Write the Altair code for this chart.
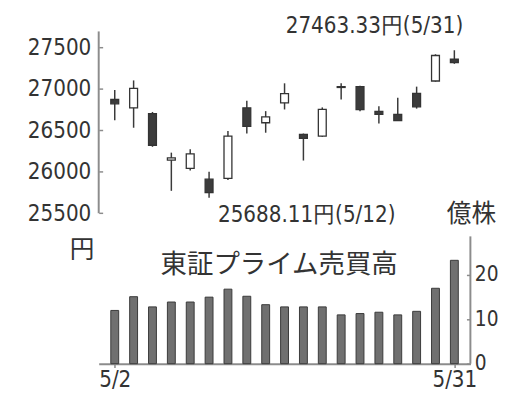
import altair as alt
import pandas as pd

# ---------------- data ----------------
dates = ["5/2", "5/6", "5/9", "5/10", "5/11", "5/12", "5/13", "5/16", "5/17", "5/18",
         "5/19", "5/20", "5/23", "5/24", "5/25", "5/26", "5/27", "5/30", "5/31"]
opens = [26870, 26770, 26700, 26140, 26040, 25910, 25920, 26770, 26590, 26830,
         26450, 26430, 27025, 27025, 26728, 26690, 26945, 27093, 27355]
highs = [26985, 27100, 26720, 26230, 26270, 26000, 26490, 26855, 26730, 27065,
         26460, 26775, 27065, 27035, 26790, 26890, 27025, 27415, 27463.33]
lows = [26620, 26530, 26300, 25770, 26015, 25688.11, 25900, 26460, 26470, 26750,
        26135, 26420, 26870, 26730, 26580, 26610, 26760, 27085, 27300]
closes = [26818, 27004, 26319, 26167, 26214, 25749, 26428, 26547, 26660, 26940,
          26403, 26750, 27015, 26748, 26690, 26615, 26782, 27400, 27315]
volumes = [12.0, 15.1, 12.8, 13.9, 13.9, 15.0, 16.8, 15.2, 13.3, 12.8,
           12.8, 12.8, 11.0, 11.3, 11.6, 11.0, 11.8, 17.0, 23.3]

price_ticks = [25500, 26000, 26500, 27000, 27500]
volume_ticks = [0, 10, 20]
x_labels = ["5/2", "5/31"]

high_note = {"date": ["5/31"], "price": [27463.33], "label": ["27463.33円(5/31)"]}
low_note = {"date": ["5/12"], "price": [25688.11], "label": ["25688.11円(5/12)"]}
price_axis_span = {"lo": [25500], "hi": [27690]}
volume_axis_span = {"lo": [0], "hi": [28.7]}

# ---------------- tables ----------------
df = pd.DataFrame({"date": dates, "open": opens, "high": highs, "low": lows,
                   "close": closes, "volume": volumes})
df["dir"] = ["up" if c >= o else "down" for o, c in zip(opens, closes)]

NARROW = "DejaVu Sans Condensed, Liberation Sans Narrow, sans-serif"
CJK = "Noto Sans CJK JP"
INK = "#333333"
GREY = "#8c8c8c"
FS = 22.5

W, H = 377, 337
PRICE_DOMAIN = [23688, 27690]
VOL_DOMAIN = [0, 74.9]

x_axis = alt.Axis(values=x_labels, title=None, labelAngle=0, domainColor=GREY,
                  domainWidth=2, tickColor=GREY, tickSize=4, tickWidth=1.5,
                  labelFont=NARROW, labelFontSize=FS, labelColor=INK,
                  labelPadding=1, grid=False)
x_scale = alt.Scale(type="point", padding=0.85)


def xenc():
    return alt.X("date:O", sort=dates, scale=x_scale, axis=x_axis)


price_scale = alt.Scale(domain=PRICE_DOMAIN, nice=False, zero=False)
vol_scale = alt.Scale(domain=VOL_DOMAIN, nice=False, zero=False)

price_axis = alt.Axis(values=price_ticks, format="d", orient="left", offset=-4,
                      tickSize=4, tickColor=GREY, tickWidth=1.5, domain=False,
                      grid=False, labelFont=NARROW, labelFontSize=FS,
                      labelColor=INK, labelPadding=8, title=None)

vol_axis = alt.Axis(values=volume_ticks, format="d", orient="right", offset=-4,
                    tickSize=4, tickColor=GREY, tickWidth=1.5, domain=False,
                    grid=False, labelFont=NARROW, labelFontSize=21,
                    labelColor=INK, labelPadding=4, title=None)


def penc(field):
    return alt.Y(field, scale=price_scale, axis=price_axis)


def venc(field):
    return alt.Y(field, scale=vol_scale, axis=vol_axis)


base = alt.Chart(df)

wicks = base.mark_rule(color="#3a3a3a", strokeWidth=1.5).encode(
    x=xenc(), y=penc("low:Q"), y2="high:Q")

bodies = base.mark_bar(size=8, stroke="#333333", strokeWidth=1.3).encode(
    x=xenc(),
    y=penc("open:Q"),
    y2="close:Q",
    fill=alt.Fill("dir:N", scale=alt.Scale(domain=["up", "down"],
                                           range=["white", "#3c3c3c"]),
                  legend=None),
)

price_line = alt.Chart(pd.DataFrame(price_axis_span)).mark_rule(
    color=GREY, strokeWidth=2).encode(
    x=alt.value(0), y=penc("lo:Q"), y2="hi:Q")

high_text = alt.Chart(pd.DataFrame(high_note)).mark_text(
    align="right", baseline="middle", dx=9, dy=-24, font=NARROW, fontSize=FS,
    color=INK).encode(x=xenc(), y=penc("price:Q"), text="label:N")

low_text = alt.Chart(pd.DataFrame(low_note)).mark_text(
    align="left", baseline="middle", dx=9, dy=18, font=NARROW, fontSize=FS,
    color=INK).encode(x=xenc(), y=penc("price:Q"), text="label:N")

yen_text = alt.Chart(pd.DataFrame({"t": ["円"]})).mark_text(
    align="center", baseline="middle", font=CJK, fontSize=25, color=INK).encode(
    x=alt.value(-17), y=alt.value(222), text="t:N")

price_layer = alt.layer(wicks, bodies, price_line, high_text, low_text, yen_text)

vol_bars = base.mark_bar(size=8, color="#707070", stroke="#3a3a3a",
                         strokeWidth=1).encode(
    x=xenc(), y=venc("volume:Q"))

vol_line = alt.Chart(pd.DataFrame(volume_axis_span)).mark_rule(
    color=GREY, strokeWidth=2).encode(
    x=alt.value(W), y=venc("lo:Q"), y2="hi:Q")

vol_title = alt.Chart(pd.DataFrame({"t": ["東証プライム売買高"]})).mark_text(
    align="center", baseline="middle", font=CJK, fontSize=26.8, color=INK).encode(
    x=alt.value(183), y=alt.value(237), text="t:N")

unit_text = alt.Chart(pd.DataFrame({"t": ["億株"]})).mark_text(
    align="center", baseline="middle", font=CJK, fontSize=25, color=INK).encode(
    x=alt.value(W + 1), y=alt.value(185), text="t:N")

vol_layer = alt.layer(vol_bars, vol_line, vol_title, unit_text)

chart = alt.layer(price_layer, vol_layer).resolve_scale(
    y="independent"
).properties(
    width=W, height=H,
    padding={"left": 92, "top": 21, "right": 28, "bottom": 29},
    autosize=alt.AutoSizeParams(type="none"),
    background="white",
).configure_view(stroke=None)

chart.save("out.html", embed_options={"renderer": "svg", "actions": False})
